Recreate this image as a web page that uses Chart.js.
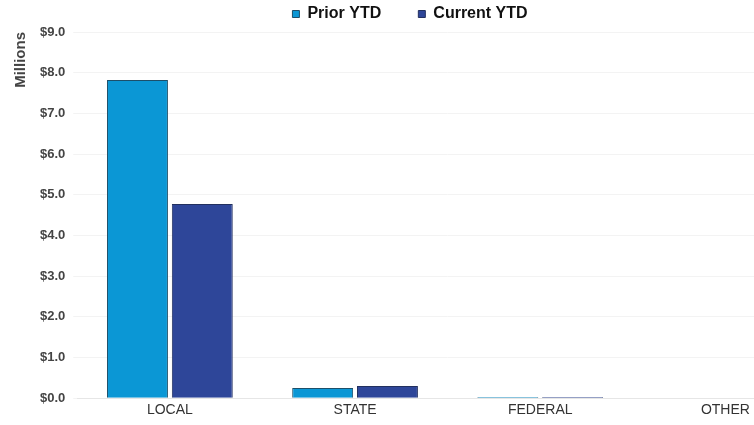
<!DOCTYPE html>
<html>
<head>
<meta charset="utf-8">
<script src="https://cdn.jsdelivr.net/npm/chart.js@4"></script>
<style>
  html, body { margin: 0; padding: 0; background: #fff; overflow: hidden; }
  #wrap { position: relative; width: 830px; height: 425px; }
</style>
</head>
<body>
<div id="wrap"><canvas id="chart"></canvas></div>
<script>
const categories = ['LOCAL', 'STATE', 'FEDERAL', 'OTHER'];
const priorYTD = [7.82, 0.25, 0.03, 0];
const currentYTD = [4.77, 0.30, 0.03, 0];

const ctx = document.getElementById('chart');
const font = 'Liberation Sans, Arial, sans-serif';

new Chart(ctx, {
	type: 'bar',
	data: {
		labels: categories,
		datasets: [{
			label: 'Prior YTD',
			data: priorYTD,
			backgroundColor: '#0b97d5',
			borderColor: '#1d4f6a',
			borderWidth: 1,
			categoryPercentage: 0.7,
			barPercentage: 0.94
		}, {
			label: 'Current YTD',
			data: currentYTD,
			backgroundColor: '#2e4699',
			borderColor: '#22305f',
			borderWidth: 1,
			categoryPercentage: 0.7,
			barPercentage: 0.94
		}]
	},
	options: {
		responsive: true,
		maintainAspectRatio: false,
		animation: false,
		layout: {
			padding: { left: 2, right: 12, top: 0, bottom: 2 }
		},
		plugins: {
			legend: {
				display: true,
				position: 'top',
				labels: {
					color: '#111',
					boxWidth: 7,
					boxHeight: 7,
					padding: 6,
					font: { family: font, size: 16, weight: 'bold' },
					generateLabels: chart => {
						const items = Chart.defaults.plugins.legend.labels.generateLabels(chart);
						items[0].text = items[0].text + '       ';
						return items;
					}
				}
			},
			tooltip: { enabled: false }
		},
		scales: {
			x: {
				grid: { display: false, drawTicks: false },
				border: { color: '#e6e6e6' },
				ticks: {
					color: '#333',
					padding: 4,
					font: { family: font, size: 14 }
				}
			},
			y: {
				min: 0,
				max: 9,
				grid: { color: '#f3f3f3', tickLength: 4 },
				border: { display: false },
				ticks: {
					stepSize: 1,
					color: '#444',
					padding: 8,
					font: { family: font, size: 13, weight: 'bold' },
					callback: v => '$' + v.toFixed(1)
				},
				title: {
					display: true,
					text: 'Millions',
					align: 'end',
					color: '#444',
					padding: { top: 10, bottom: 2 },
					font: { family: font, size: 15, weight: 'bold' }
				}
			}
		}
	}
});
</script>
</body>
</html>
